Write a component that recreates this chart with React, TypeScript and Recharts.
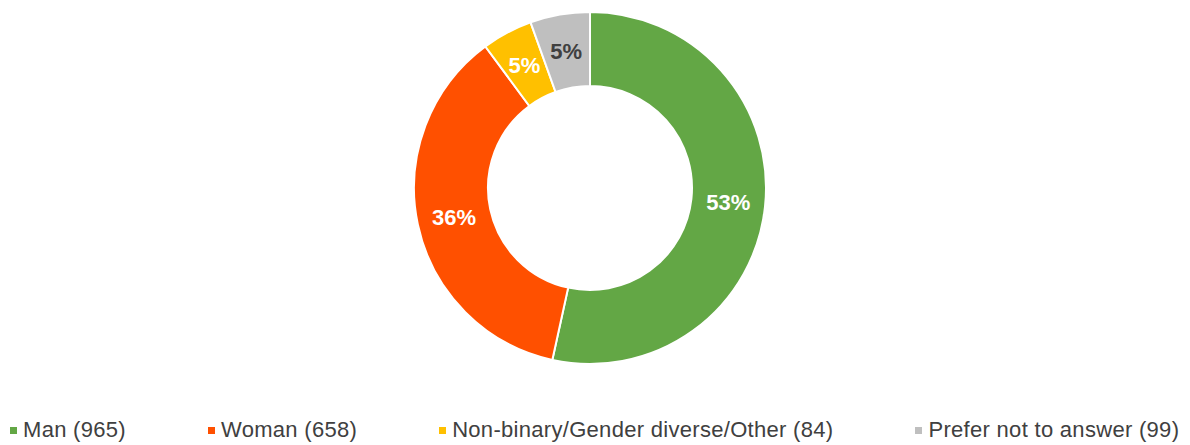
import React from 'react';
import { PieChart, Pie, Cell, Legend } from 'recharts';

const categories = ['Man', 'Woman', 'Non-binary/Gender diverse/Other', 'Prefer not to answer'];
const counts = [965, 658, 84, 99];
const colors = ['#63A745', '#FF5000', '#FFC000', '#BFBFBF'];
const labelColors = ['#FFFFFF', '#FFFFFF', '#FFFFFF', '#404040'];

const data = categories.map((name, i) => ({ name, value: counts[i] }));

const RAD = Math.PI / 180;

const renderLabel = (props: any) => {
  const { cx, cy, midAngle, innerRadius, outerRadius, percent, index } = props;
  const r = (innerRadius + outerRadius) / 2;
  const x = cx + r * Math.cos(-midAngle * RAD);
  const y = cy + r * Math.sin(-midAngle * RAD);
  return (
    <text
      x={x}
      y={y}
      fill={labelColors[index]}
      textAnchor="middle"
      dominantBaseline="central"
      fontFamily="'Liberation Sans', Arial, sans-serif"
      fontWeight="bold"
      fontSize={22}
    >
      {`${Math.round(percent * 100)}%`}
    </text>
  );
};

const renderLegend = () => (
  <div
    style={{
      display: 'flex',
      flexDirection: 'row',
      alignItems: 'center',
      paddingLeft: 10,
      fontFamily: "'Liberation Sans', Arial, sans-serif",
      fontSize: 22,
      letterSpacing: 0.3,
      color: '#404040',
      lineHeight: '28px',
      whiteSpace: 'nowrap',
    }}
  >
    {categories.map((c, i) => (
      <div key={c} style={{ display: 'flex', alignItems: 'center', marginRight: 82 }}>
        <span style={{ display: 'inline-block', width: 7, height: 7, background: colors[i], marginRight: 6 }} />
        <span>{`${c} (${counts[i]})`}</span>
      </div>
    ))}
  </div>
);

export default function App() {
  return (
    <div style={{ position: 'absolute', left: 0, top: 0, width: 1190, height: 445, background: '#fff' }}>
      <PieChart width={1190} height={445} margin={{ top: 0, right: 0, bottom: 0, left: 0 }}>
        <Pie
          data={data}
          dataKey="value"
          nameKey="name"
          cx={590}
          cy={188}
          innerRadius={102}
          outerRadius={176}
          startAngle={90}
          endAngle={-270}
          stroke="#FFFFFF"
          strokeWidth={2}
          label={renderLabel}
          labelLine={false}
          isAnimationActive={false}
        >
          {data.map((d, i) => (
            <Cell key={d.name} fill={colors[i]} />
          ))}
        </Pie>
        <Legend
          verticalAlign="bottom"
          content={renderLegend}
          wrapperStyle={{ top: 416, left: 0, width: 1190, bottom: 'auto' }}
        />
      </PieChart>
    </div>
  );
}
